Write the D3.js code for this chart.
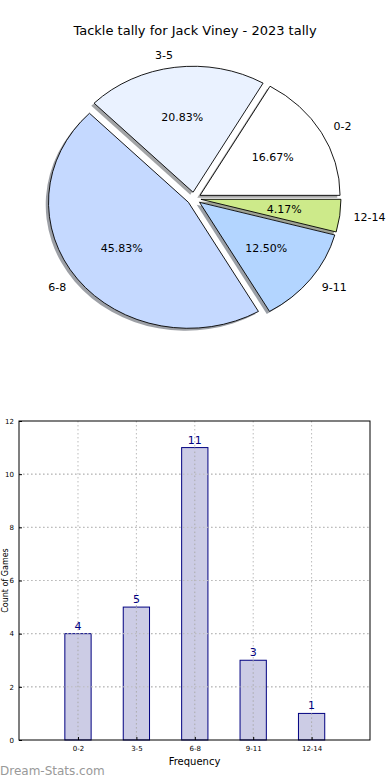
<!DOCTYPE html>
<html>
<head>
<meta charset="utf-8">
<script src="https://cdn.jsdelivr.net/npm/d3@7"></script>
<style>
  html, body { margin: 0; padding: 0; background: #fff; }
  svg { display: block; font-family: "DejaVu Sans", sans-serif; }
</style>
</head>
<body>
<svg id="chart" width="390" height="780"></svg>
<script>
// ---- data ----
const title = "Tackle tally for Jack Viney - 2023 tally";
const categories = ["0-2", "3-5", "6-8", "9-11", "12-14"];
const counts = [4, 5, 11, 3, 1];
const pieColors = ["#FFFFFF", "#EAF2FF", "#C5D9FF", "#B3D5FF", "#CDEA8A"];
const yTicks = [0, 2, 4, 6, 8, 10, 12];
const xLabel = "Frequency";
const yLabel = "Count of Games";
const watermark = "Dream-Stats.com";

(function () {
const svg = d3.select("#chart");

// ---- title ----
svg.append("text")
  .attr("x", 195).attr("y", 35)
  .attr("text-anchor", "middle")
  .attr("font-size", 13)
  .attr("fill", "#000")
  .text(title);

// ---- pie ----
const cx = 194, cy = 198.5, rx = 140, ry = 126;
const explode = 0.05;
const total = d3.sum(counts);
const pie = d3.pie().sort(null).value(d => d)
  .startAngle(Math.PI / 2).endAngle(Math.PI / 2 - 2 * Math.PI);
const arcs = pie(counts);
const arcGen = d3.arc().innerRadius(0).outerRadius(1);

const pieG = svg.append("g");
function offset(a) {
  const m = (a.startAngle + a.endAngle) / 2;
  return [explode * rx * Math.sin(m), -explode * ry * Math.cos(m), m];
}
// shadows
arcs.forEach((a, i) => {
  const [ox, oy] = offset(a);
  const c = d3.rgb(pieColors[i]);
  pieG.append("path")
    .attr("d", arcGen(a))
    .attr("transform", `translate(${cx + ox - 2.8},${cy + oy + 2.5}) scale(${rx},${ry})`)
    .attr("fill", d3.rgb(c.r * 0.3, c.g * 0.3, c.b * 0.3))
    .attr("fill-opacity", 0.5);
});
// wedges
arcs.forEach((a, i) => {
  const [ox, oy] = offset(a);
  pieG.append("path")
    .attr("d", arcGen(a))
    .attr("transform", `translate(${cx + ox},${cy + oy}) scale(${rx},${ry})`)
    .attr("fill", pieColors[i])
    .attr("stroke", "#000")
    .attr("stroke-width", 0.9)
    .attr("vector-effect", "non-scaling-stroke")
    .attr("stroke-linejoin", "round");
});
// labels
arcs.forEach((a, i) => {
  const [ox, oy, m] = offset(a);
  const lx = cx + ox + 1.1 * rx * Math.sin(m);
  const ly = cy + oy - 1.1 * ry * Math.cos(m);
  pieG.append("text")
    .attr("x", lx).attr("y", ly)
    .attr("dy", "0.35em")
    .attr("text-anchor", Math.sin(m) >= 0 ? "start" : "end")
    .attr("font-size", 11)
    .text(categories[i]);
  const px = cx + ox + 0.6 * rx * Math.sin(m);
  const py = cy + oy - 0.6 * ry * Math.cos(m);
  pieG.append("text")
    .attr("x", px).attr("y", py)
    .attr("dy", "0.35em")
    .attr("text-anchor", "middle")
    .attr("font-size", 11)
    .text((counts[i] / total * 100).toFixed(2) + "%");
});

// ---- bar chart ----
const pL = 19, pR = 370, pT = 421, pB = 740;
const xIdx = d3.range(categories.length);
const x = d3.scaleLinear().domain([-1.01, 5]).range([pL, pR]);
const y = d3.scaleLinear().domain([0, 12]).range([pB, pT]);
const barW = x(0.45) - x(0);

const bg = svg.append("g");
// grid
bg.selectAll("line.hg").data(yTicks.slice(1, -1)).join("line")
  .attr("x1", pL).attr("x2", pR)
  .attr("y1", d => y(d)).attr("y2", d => y(d))
  .attr("stroke", "#bbb").attr("stroke-width", 1)
  .attr("stroke-dasharray", "1.5,2.5");
bg.selectAll("line.vg").data(xIdx).join("line")
  .attr("x1", d => x(d)).attr("x2", d => x(d))
  .attr("y1", pT).attr("y2", pB)
  .attr("stroke", "#bbb").attr("stroke-width", 1)
  .attr("stroke-dasharray", "1.5,2.5");

// bars
bg.selectAll("rect.bar").data(counts).join("rect")
  .attr("x", (d, i) => x(i) - barW / 2)
  .attr("y", d => y(d))
  .attr("width", barW)
  .attr("height", d => y(0) - y(d))
  .attr("fill", "#CCCCE5")
  .attr("stroke", "#000080")
  .attr("stroke-width", 1);
// grid over bars
bg.selectAll("line.vg2").data(xIdx).join("line")
  .attr("x1", d => x(d)).attr("x2", d => x(d))
  .attr("y1", d => y(counts[d])).attr("y2", pB)
  .attr("stroke", "#aaa").attr("stroke-width", 1)
  .attr("stroke-dasharray", "1.5,2.5");
bg.selectAll("line.hg2").data(yTicks.slice(1, -1)).join("line")
  .attr("x1", pL).attr("x2", pR)
  .attr("y1", d => y(d)).attr("y2", d => y(d))
  .attr("stroke", "#bbb").attr("stroke-width", 1)
  .attr("stroke-dasharray", "1.5,2.5");

// value labels
bg.selectAll("text.val").data(counts).join("text")
  .attr("x", (d, i) => x(i))
  .attr("y", d => y(d) - 4)
  .attr("text-anchor", "middle")
  .attr("font-size", 11)
  .attr("fill", "#000080")
  .text(d => d);

// axes
const yAxis = d3.axisLeft(y).tickValues(yTicks).tickSize(-3).tickPadding(5);
bg.append("g").attr("transform", `translate(${pL},0)`).call(yAxis)
  .call(g => g.select(".domain").remove())
  .call(g => g.selectAll("text").attr("font-size", 7).attr("font-family", "DejaVu Sans, sans-serif"))
  .call(g => g.selectAll("line").attr("stroke", "#000"));
const xAxis = d3.axisBottom(x).tickValues(xIdx).tickFormat(i => categories[i]).tickSize(-3).tickPadding(6);
bg.append("g").attr("transform", `translate(0,${pB})`).call(xAxis)
  .call(g => g.select(".domain").remove())
  .call(g => g.selectAll("text").attr("font-size", 7).attr("font-family", "DejaVu Sans, sans-serif"))
  .call(g => g.selectAll("line").attr("stroke", "#000"));

// frame
bg.append("rect")
  .attr("x", pL).attr("y", pT)
  .attr("width", pR - pL).attr("height", pB - pT)
  .attr("fill", "none").attr("stroke", "#000").attr("stroke-width", 1);

// axis labels
svg.append("text")
  .attr("x", (pL + pR) / 2).attr("y", 765)
  .attr("text-anchor", "middle")
  .attr("font-size", 10)
  .text(xLabel);
svg.append("text")
  .attr("transform", `translate(8,${(pT + pB) / 2}) rotate(-90)`)
  .attr("text-anchor", "middle")
  .attr("font-size", 8)
  .text(yLabel);

// watermark
svg.append("text")
  .attr("x", 0).attr("y", 775)
  .attr("font-size", 12)
  .attr("fill", "#999")
  .text(watermark);
})();
</script>
</body>
</html>
